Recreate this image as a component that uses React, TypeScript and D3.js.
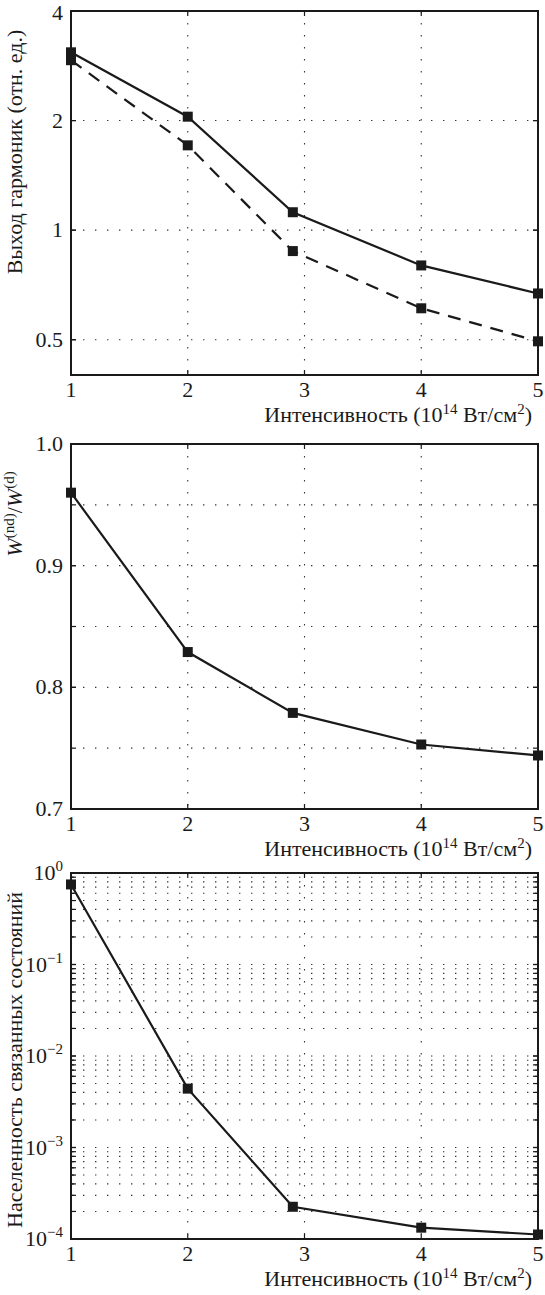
import React from "react";
import * as d3 from "d3";

// intensity, 10^14 W/cm^2
const intensity = [1, 2, 2.9, 4, 5];
const xTicks = [1, 2, 3, 4, 5];

// harmonic yield (arb. units), log axis
const harmonicSolid = [3.08, 2.05, 1.12, 0.8, 0.67];
const harmonicDashed = [2.93, 1.71, 0.876, 0.61, 0.495];
const harmonicTicks = [0.5, 1, 2, 4];

// W(nd)/W(d)
const ratio = [0.96, 0.829, 0.779, 0.753, 0.744];
const ratioTicks = [0.7, 0.8, 0.9, 1.0];
const ratioGrid = [0.75, 0.8, 0.85, 0.9, 0.95];

// bound-state population, log axis
const population = [0.75, 0.0044, 2.25e-4, 1.33e-4, 1.12e-4];
const popExponents = [0, -1, -2, -3, -4];

const W = 545;
const H = 1295;
const left = 71;
const right = 538;
const FONT = "'Liberation Serif', 'Times New Roman', serif";
const FS = 22;
const SUP = 15;

const x = d3.scaleLinear().domain([1, 5]).range([left, right]);

type Series = { values: number[]; dash?: string };

const Panel = ({
  top,
  bottom,
  y,
  ticks,
  tickLabel,
  hGrid,
  minor = [],
  series,
  yTitle,
  titleY,
}: {
  top: number;
  bottom: number;
  y: any;
  ticks: number[];
  tickLabel: (v: number) => React.ReactNode;
  hGrid: number[];
  minor?: number[];
  series: Series[];
  yTitle: React.ReactNode;
  titleY: number;
}) => {
  const line = d3
    .line<number>()
    .x((_, i) => x(intensity[i]))
    .y((d) => y(d));
  const grid = { stroke: "#333", strokeWidth: 1.1, strokeDasharray: "1.4 10.6" };
  const axis = { stroke: "#1a1a1a", strokeWidth: 2 };
  return (
    <g>
      {hGrid.map((v) => (
        <line key={"h" + v} x1={left} x2={right} y1={y(v)} y2={y(v)} {...grid} />
      ))}
      {xTicks.slice(1, -1).map((v) => (
        <line key={"v" + v} x1={x(v)} x2={x(v)} y1={top} y2={bottom} {...grid} />
      ))}
      <rect x={left} y={top} width={right - left} height={bottom - top} fill="none" {...axis} />
      {xTicks.map((v) => (
        <g key={"xt" + v}>
          <line x1={x(v)} x2={x(v)} y1={bottom} y2={bottom - 5} {...axis} strokeWidth={1.2} />
          <line x1={x(v)} x2={x(v)} y1={top} y2={top + 5} {...axis} strokeWidth={1.2} />
          <text x={x(v)} y={bottom + 22} textAnchor="middle" fontSize={FS}>
            {v}
          </text>
        </g>
      ))}
      {hGrid.concat(ticks).map((v, i) => (
        <g key={"yt" + i}>
          <line x1={left} x2={left + 5} y1={y(v)} y2={y(v)} {...axis} strokeWidth={1.2} />
          <line x1={right} x2={right - 5} y1={y(v)} y2={y(v)} {...axis} strokeWidth={1.2} />
        </g>
      ))}
      {minor.map((v, i) => (
        <g key={"mt" + i}>
          <line x1={left} x2={left + 3} y1={y(v)} y2={y(v)} {...axis} strokeWidth={1} />
          <line x1={right} x2={right - 3} y1={y(v)} y2={y(v)} {...axis} strokeWidth={1} />
        </g>
      ))}
      {ticks.map((v) => (
        <text key={"yl" + v} x={63} y={Math.max(y(v) + 7, 20)} textAnchor="end" fontSize={FS}>
          {tickLabel(v)}
        </text>
      ))}
      {series.map((s, si) => (
        <g key={"s" + si}>
          <path d={line(s.values) || ""} fill="none" stroke="#1a1a1a" strokeWidth={2.2} strokeDasharray={s.dash} />
          {s.values.map((d, i) => (
            <rect key={i} x={x(intensity[i]) - 5} y={y(d) - 5} width={10} height={10} fill="#1a1a1a" />
          ))}
        </g>
      ))}
      <text x={532} y={bottom + 47} textAnchor="end" fontSize={FS}>
        Интенсивность (10
        <tspan dy={-8} fontSize={SUP}>14</tspan>
        <tspan dy={8}>{" Вт/см"}</tspan>
        <tspan dy={-8} fontSize={SUP}>2</tspan>
        <tspan dy={8}>)</tspan>
      </text>
      <text transform={`translate(22,${titleY}) rotate(-90)`} textAnchor="middle" fontSize={FS}>
        {yTitle}
      </text>
    </g>
  );
};

export default function App() {
  const y1 = d3.scaleLog().domain([0.4, 4]).range([375, 11]);
  const y2 = d3.scaleLinear().domain([0.7, 1.0]).range([809, 444]);
  const y3 = d3.scaleLog().domain([1e-4, 1]).range([1239, 873]);
  const popMinor: number[] = [];
  popExponents.slice(1).forEach((e) => {
    for (let k = 2; k <= 9; k++) popMinor.push(k * Math.pow(10, e));
  });
  const popMajor = popExponents.map((e) => Math.pow(10, e));
  return (
    <svg
      width={W}
      height={H}
      style={{ position: "absolute", left: 0, top: 0, background: "#fff" }}
      fontFamily={FONT}
      fill="#1a1a1a"
    >
      <rect width={W} height={H} fill="#fff" />
      <Panel
        top={11}
        bottom={375}
        y={y1}
        ticks={harmonicTicks}
        tickLabel={(v) => String(v)}
        hGrid={[0.5, 1, 2]}
        series={[{ values: harmonicSolid }, { values: harmonicDashed, dash: "13 9" }]}
        yTitle="Выход гармоник (отн. ед.)"
        titleY={152}
      />
      <Panel
        top={444}
        bottom={809}
        y={y2}
        ticks={ratioTicks}
        tickLabel={(v) => v.toFixed(1)}
        hGrid={ratioGrid}
        series={[{ values: ratio }]}
        yTitle={
          <>
            <tspan fontStyle="italic">W</tspan>
            <tspan dy={-8} fontSize={SUP}>(nd)</tspan>
            <tspan dy={8}>/</tspan>
            <tspan fontStyle="italic">W</tspan>
            <tspan dy={-8} fontSize={SUP}>(d)</tspan>
          </>
        }
        titleY={514}
      />
      <Panel
        top={873}
        bottom={1239}
        y={y3}
        ticks={popMajor}
        tickLabel={(v) => (
          <>
            10
            <tspan dy={-9} fontSize={SUP}>
              {Math.round(Math.log10(v)) === 0 ? "0" : "−" + Math.abs(Math.round(Math.log10(v)))}
            </tspan>
          </>
        )}
        hGrid={popMajor.slice(1, -1).concat(popMinor)}
        minor={popMinor}
        series={[{ values: population }]}
        yTitle="Населенность связанных состояний"
        titleY={1060}
      />
    </svg>
  );
}
